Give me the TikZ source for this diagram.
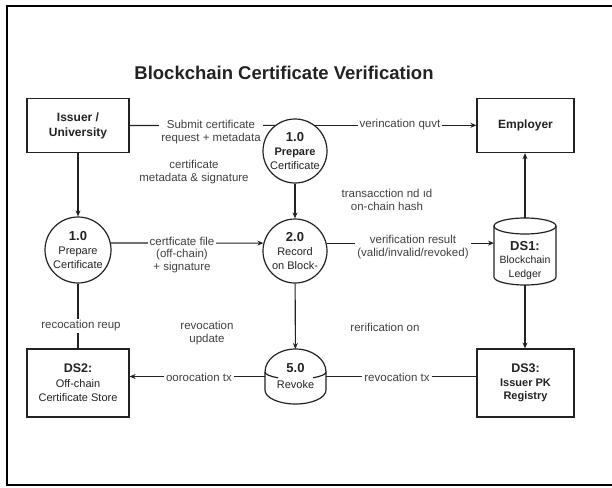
\documentclass[tikz,border=0pt]{standalone}
\usepackage{fontspec}
\setmainfont{Liberation Sans}
\usetikzlibrary{arrows.meta,calc}
\definecolor{ink}{HTML}{222222}
\definecolor{lblc}{HTML}{404040}
\begin{document}
\begin{tikzpicture}[x=1pt,y=-1pt,
  shapeline/.style={draw=ink,line width=1.2pt},
  box/.style={shapeline,minimum width=102pt,minimum height=54pt,align=center,inner sep=0pt,text=ink,font=\fontsize{12}{15}\selectfont\bfseries},
  proc/.style={shapeline,circle,minimum size=64pt,inner sep=0pt,align=center,text=ink,font=\fontsize{11}{14}\selectfont},
  ghost/.style={inner sep=0pt,outer sep=0pt,align=center,text=ink},
  flow/.style={draw=ink,line width=1.1pt},
  arr/.style={flow,-{Stealth[length=6pt,width=5pt]}},
  lbl/.style={fill=white,inner sep=2pt,align=center,text=lblc,font=\fontsize{11.5}{13.5}\selectfont},
]
\useasboundingbox (0,0) rectangle (612,487);
\draw[line width=2pt,black] (612,6) -- (7,6) -- (7,485) -- (612,485);

\node[font=\fontsize{18.5}{20}\selectfont\bfseries,text=ink] (title) at (284,73) {Blockchain Certificate Verification};

% external entities and stores
\node[box] (iss) at (78,125.5) {Issuer /\\University};
\node[box,minimum width=97pt] (emp) at (525.5,125.5) {Employer};
\node[box,minimum height=68pt,font=\fontsize{11}{14.5}\selectfont] (ds2) at (78,383) {{\fontsize{12.5}{14}\selectfont\bfseries DS2:}\\Off-chain\\Certificate Store};
\node[box,minimum width=97pt,minimum height=68pt,font=\fontsize{11}{13.5}\selectfont\bfseries] (ds3) at (525.5,383) {{\fontsize{12.5}{14}\selectfont DS3:}\\Issuer PK\\Registry};

% processes
\node[proc] (c1t) at (295,151) {{\fontsize{13}{14}\selectfont\bfseries 1.0}\\\textbf{Prepare}\\Certificate};
\node[proc,minimum size=66pt] (c1l) at (78,250) {{\fontsize{13}{14}\selectfont\bfseries 1.0}\\Prepare\\Certificate};
\node[proc] (c2) at (295,251) {{\fontsize{13}{14}\selectfont\bfseries 2.0}\\Record\\on Block-};

% DS1 cylinder
\node[ghost,minimum width=62pt,minimum height=67pt] (ds1) at (525,251.5) {};
\draw[shapeline] ($(ds1.north)+(0,8)$) ellipse[x radius=31pt,y radius=8pt];
\draw[shapeline] ($(ds1.north west)+(0,8)$) -- ($(ds1.south west)+(0,-8)$)
   arc[start angle=180,end angle=360,x radius=31pt,y radius=8pt] -- ($(ds1.north east)+(0,8)$);
\node[ghost,font=\fontsize{10.5}{13.5}\selectfont] (ds1t) at ($(ds1.center)+(0,9)$) {{\fontsize{13}{14}\selectfont\bfseries DS1:}\\Blockchain\\Ledger};

% 5.0 Revoke
\node[ghost,minimum width=61pt,minimum height=55pt,font=\fontsize{11}{16}\selectfont] (rev) at (295.5,376.5) {{\fontsize{13}{14}\selectfont\bfseries 5.0}\\Revoke};
\draw[shapeline] ($(rev.north west)+(0,23)$) -- ($(rev.south west)+(0,-14)$)
   arc[start angle=180,end angle=360,x radius=30.5pt,y radius=14pt] -- ($(rev.north east)+(0,23)$)
   arc[start angle=0,end angle=180,x radius=30.5pt,y radius=23pt] -- cycle;
\draw[shapeline] ($(rev.north west)+(0,23)$) arc[start angle=180,end angle=235,x radius=30.5pt,y radius=7pt];
\draw[shapeline] ($(rev.north east)+(0,23)$) arc[start angle=0,end angle=-55,x radius=30.5pt,y radius=7pt];

% flows
\draw[flow] (iss.east) -- (c1t.128);
\node[lbl] (l1) at (211,132) {Submit certificate\\request + metadata};

\draw[arr] (c1t.52) -- (c1t.52 -| emp.west);
\node[lbl] (l2) at (400,125) {verincation quvt};

\draw[arr] (iss) -- (c1l);
\draw[arr] (c1t) -- (c2);
\node[lbl,fill=none] (l3) at (194,172) {certificate\\metadata \& signature};
\node[lbl,fill=none] (l4) at (387,200) {transacction nd ıd\\on-chain hash};

\draw[arr] (c1l.12) -- (c2.166);
\node[lbl,font=\fontsize{11.5}{12.5}\selectfont] (l5) at (182,255) {certficate file\\(off-chain)\\+ signature};

\draw[arr] (c2.14) -- (c2.14 -| ds1.west);
\node[lbl] (l6) at (413,247) {verification result\\(valid/invalid/revoked)};

\draw[arr] (ds1.north) -- (ds1.north |- emp.south);
\draw[arr] (ds1.south) -- (ds1.south |- ds3.north);
\node[lbl,fill=none] (l7) at (385,327) {rerification on};

\draw[flow] (c1l) -- (ds2);
\node[lbl] (l8) at (81,326) {recocation reup};

\draw[arr] (c2) -- (rev);
\node[lbl,fill=none] (l9) at (207,333) {revocation\\update};

\draw[flow] (ds3.west |- rev.east) -- (rev.east);
\node[lbl] (l10) at (397,377) {revocation tx};

\draw[arr] (rev.west) -- (rev.west -| ds2.east);
\node[lbl] (l11) at (199,377) {oorocation tx};
\end{tikzpicture}
\end{document}
